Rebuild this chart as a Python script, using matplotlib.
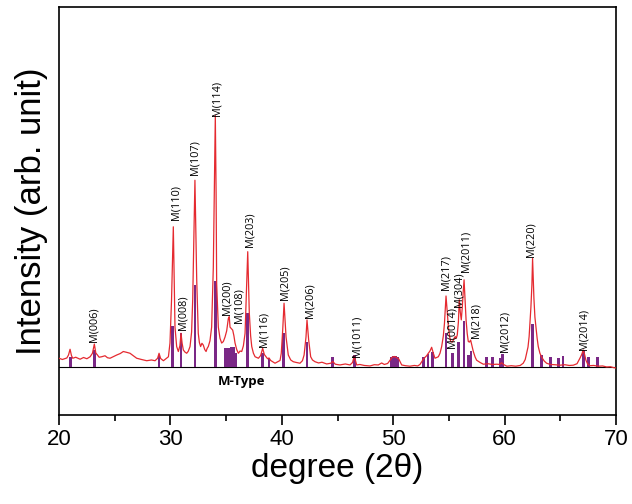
import matplotlib
matplotlib.use("Agg")
import matplotlib.pyplot as plt
from matplotlib.ticker import MultipleLocator

# measured XRD pattern (2theta in degrees, intensity in arb. units)
two_theta = [
    20.0, 20.3, 20.7, 20.85, 20.99, 21.12, 21.23, 21.5, 21.89, 22.2,
    22.5, 22.79, 23.0, 23.17, 23.3, 23.45, 23.6, 23.83, 24.13, 24.35,
    24.58, 24.9, 25.18, 25.5, 25.77, 26.05, 26.37, 26.7, 26.97, 27.4,
    27.87, 28.3, 28.62, 28.85, 28.98, 29.12, 29.37, 29.6, 29.82, 29.96,
    30.1, 30.26, 30.41, 30.56, 30.71, 30.85, 30.95, 31.05, 31.16, 31.3,
    31.46, 31.6, 31.76, 31.9, 32.0, 32.1, 32.2, 32.28, 32.36, 32.5,
    32.6, 32.71, 32.83, 32.95, 33.08, 33.2, 33.3, 33.4, 33.55, 33.7,
    33.85, 33.95, 34.03, 34.1, 34.15, 34.3, 34.45, 34.6, 34.75, 34.9,
    35.05, 35.2, 35.28, 35.35, 35.45, 35.59, 35.7, 35.8, 35.95, 36.1,
    36.25, 36.4, 36.55, 36.7, 36.85, 36.94, 37.08, 37.2, 37.3, 37.45,
    37.6, 37.9, 38.1, 38.28, 38.43, 38.58, 38.72, 38.85, 39.0, 39.39,
    39.84, 39.95, 40.08, 40.2, 40.38, 40.58, 40.8, 41.03, 41.3, 41.63,
    41.85, 42.0, 42.17, 42.26, 42.41, 42.59, 42.75, 42.98, 43.3, 43.6,
    44.03, 44.4, 44.57, 44.8, 45.22, 45.7, 46.12, 46.35, 46.5, 46.72,
    47.0, 47.4, 47.92, 48.3, 48.66, 48.96, 49.2, 49.5, 49.7, 49.9,
    50.1, 50.3, 50.5, 50.76, 51.1, 51.5, 51.9, 52.2, 52.4, 52.56,
    52.72, 52.86, 53.0, 53.15, 53.3, 53.45, 53.6, 53.75, 53.9, 54.05,
    54.2, 54.35, 54.5, 54.6, 54.74, 54.85, 54.95, 55.05, 55.16, 55.3,
    55.4, 55.5, 55.57, 55.66, 55.75, 55.85, 55.93, 56.02, 56.11, 56.2,
    56.28, 56.36, 56.45, 56.54, 56.64, 56.74, 56.85, 56.95, 57.07, 57.19,
    57.35, 57.49, 57.8, 58.09, 58.5, 58.9, 59.29, 59.55, 59.73, 59.9,
    60.2, 60.6, 61.0, 61.4, 61.67, 61.85, 61.97, 62.1, 62.2, 62.36,
    62.45, 62.51, 62.57, 62.63, 62.72, 62.81, 62.92, 63.02, 63.17, 63.33,
    63.55, 63.77, 64.1, 64.5, 64.96, 65.4, 65.8, 66.16, 66.5, 66.76,
    66.92, 67.06, 67.18, 67.3, 67.45, 67.66, 68.0, 68.4, 68.8, 69.16,
    69.5, 69.8, 70.0,
]
intensity = [
    3.5, 3.0, 3.6, 4.8, 7.1, 4.5, 3.5, 3.9, 3.1, 3.8,
    3.3, 4.1, 5.5, 9.2, 5.6, 4.8, 3.9, 4.1, 4.5, 3.7,
    3.5, 4.2, 4.8, 5.4, 6.2, 5.9, 5.5, 4.4, 3.5, 3.0,
    2.5, 2.8, 2.5, 3.5, 5.5, 3.4, 2.5, 3.3, 4.1, 9.6,
    27, 56.3, 16, 8.2, 6.2, 8.5, 13.5, 9.5, 6.8, 6.0,
    5.5, 6.3, 8.2, 14, 27, 50, 75, 55, 35, 13.5,
    9.8, 8.2, 9.5, 8.8, 7.0, 6.2, 7.5, 8.2, 10.5, 16,
    40, 75, 101, 70, 33.7, 16, 11.5, 9.6, 10.2, 12,
    14.5, 19.5, 20.2, 16, 15.5, 14.8, 12.5, 9.6, 7.0, 5.5,
    6.4, 6.2, 8.5, 13.5, 34, 46.3, 21.7, 12.5, 8.2, 5.5,
    4.1, 3.5, 4.6, 7.5, 5.0, 4.1, 3.3, 3.6, 2.6, 1.5,
    2.6, 5.5, 14.9, 25.6, 12, 4.8, 2.8, 2.1, 1.8, 1.5,
    2.5, 4.8, 12, 18.9, 10.8, 4.1, 2.8, 2.1, 1.6, 1.9,
    1.2, 1.5, 2.2, 1.1, 0.8, 1.2, 0.8, 1.8, 4.4, 0.8,
    1.0, 0.6, 0.4, 0.9, 0.8, 1.6, 1.0, 1.4, 2.6, 3.9,
    4.2, 3.8, 3.2, 0.8, 0.5, 0.3, 0.6, 0.4, 1.0, 2.1,
    3.2, 3.9, 4.5, 5.5, 6.4, 7.9, 5.5, 3.5, 3.8, 4.1,
    5.5, 8.2, 12.5, 17.5, 28.5, 22, 16.2, 12.5, 10.2, 10.0,
    10.8, 11.8, 12.2, 11.5, 12.9, 18, 27, 22, 18.9, 24,
    30, 35, 27, 18.9, 13.5, 10.2, 10.0, 10.8, 8.5, 6.2,
    4.0, 2.7, 1.8, 1.1, 1.3, 1.0, 1.1, 1.0, 1.7, 1.0,
    0.3, 0.5, 0.3, 0.6, 1.5, 3.0, 5.5, 8.0, 12.2, 24,
    33, 43.6, 35, 27.6, 20, 16.2, 11.5, 8.2, 5.5, 3.9,
    2.4, 1.5, 1.0, 0.9, 0.7, 0.9, 0.6, 0.7, 1.3, 3.5,
    5.0, 6.8, 5.0, 2.7, 1.2, 0.5, 0.6, 0.3, 0.4, 0.0,
    0.1, -0.3, -0.4,
]

# reference pattern sticks (M-type)
stick_pos = [21.0, 23.17, 28.98, 30.2, 30.95, 32.2, 34.03, 34.96, 35.2, 35.44,
             35.68, 35.9, 36.9, 38.28, 38.85, 40.17, 42.26, 44.57, 46.5, 49.8,
             50.0, 50.2, 50.4, 52.7, 53.12, 53.5, 54.74, 55.34, 55.88, 56.36,
             56.78, 56.98, 58.4, 58.93, 59.59, 59.83, 62.52, 63.33, 64.1, 64.82,
             65.24, 67.07, 67.55, 68.36]
stick_h = [4, 6.8, 5, 16.5, 13.7, 33, 34.7, 7.7, 7.8, 8.0,
           8.2, 5.5, 21.8, 5.6, 3.7, 13.5, 10.2, 4.1, 4.8, 4,
           4.2, 4.2, 4, 3.9, 5.2, 6.1, 13.8, 5.5, 10.2, 18.5,
           4.8, 6.5, 3.9, 3.9, 3.7, 5.2, 17.1, 4.7, 4, 3.7,
           4.3, 6.8, 3.9, 3.9]

peak_labels = ['M(006)', 'M(110)', 'M(008)', 'M(107)', 'M(114)', 'M(200)', 'M(108)',
               'M(203)', 'M(116)', 'M(205)', 'M(206)', 'M(1011)', 'M(217)', 'M(0014)',
               'M(304)', 'M(2011)', 'M(218)', 'M(2012)', 'M(220)', 'M(2014)']
label_x = [23.17, 30.5, 31.16, 32.25, 34.18, 35.12, 36.12, 37.1, 38.38, 40.33,
           42.52, 46.78, 54.74, 55.3, 55.9, 56.55, 57.42, 60.0, 62.4, 67.17]
label_y = [10, 59, 14.9, 77, 101, 20.9, 17.5, 48.3, 8.2, 26.9,
           19.5, 4.1, 31, 7.6, 24, 38, 11.5, 6.2, 44.3, 6.8]

fig = plt.figure(figsize=(6.32, 5.04), dpi=100)
ax = fig.add_axes([0.0934, 0.1766, 0.8813, 0.8095])

ax.bar(stick_pos, stick_h, width=0.24, color="#7a2886", zorder=2)
ax.plot(two_theta, intensity, color="#e52a30", lw=0.9, zorder=3)
ax.axhline(0, color="black", lw=0.8, zorder=1)

for lab, x, y in zip(peak_labels, label_x, label_y):
    ax.text(x, y, lab, rotation=90, ha="center", va="bottom",
            fontsize=7.8, family=["Open Sans", "DejaVu Sans"], zorder=4)

ax.text(36.35, -5.9, "M-Type", ha="center", va="center", fontsize=9.5,
        fontweight="bold", family=["Open Sans", "DejaVu Sans"])

ax.set_xlim(20, 70)
ax.set_ylim(-19.3, 144.6)
ax.xaxis.set_major_locator(MultipleLocator(10))
ax.xaxis.set_minor_locator(MultipleLocator(5))
ax.tick_params(axis="x", which="major", direction="out", length=7, width=1.2,
               labelsize=16, pad=3)
ax.tick_params(axis="x", which="minor", direction="out", length=4, width=1.2)
ax.tick_params(axis="y", left=False, labelleft=False)
for lbl in ax.get_xticklabels():
    lbl.set_family("Liberation Sans")
for s in ax.spines.values():
    s.set_linewidth(1.2)

ax.set_xlabel("degree (2θ)", fontsize=24, family="Liberation Sans", labelpad=2)
ax.set_ylabel("Intensity (arb. unit)", fontsize=25, family="Liberation Sans",
              labelpad=8)

fig.savefig("out.png", dpi=100)
